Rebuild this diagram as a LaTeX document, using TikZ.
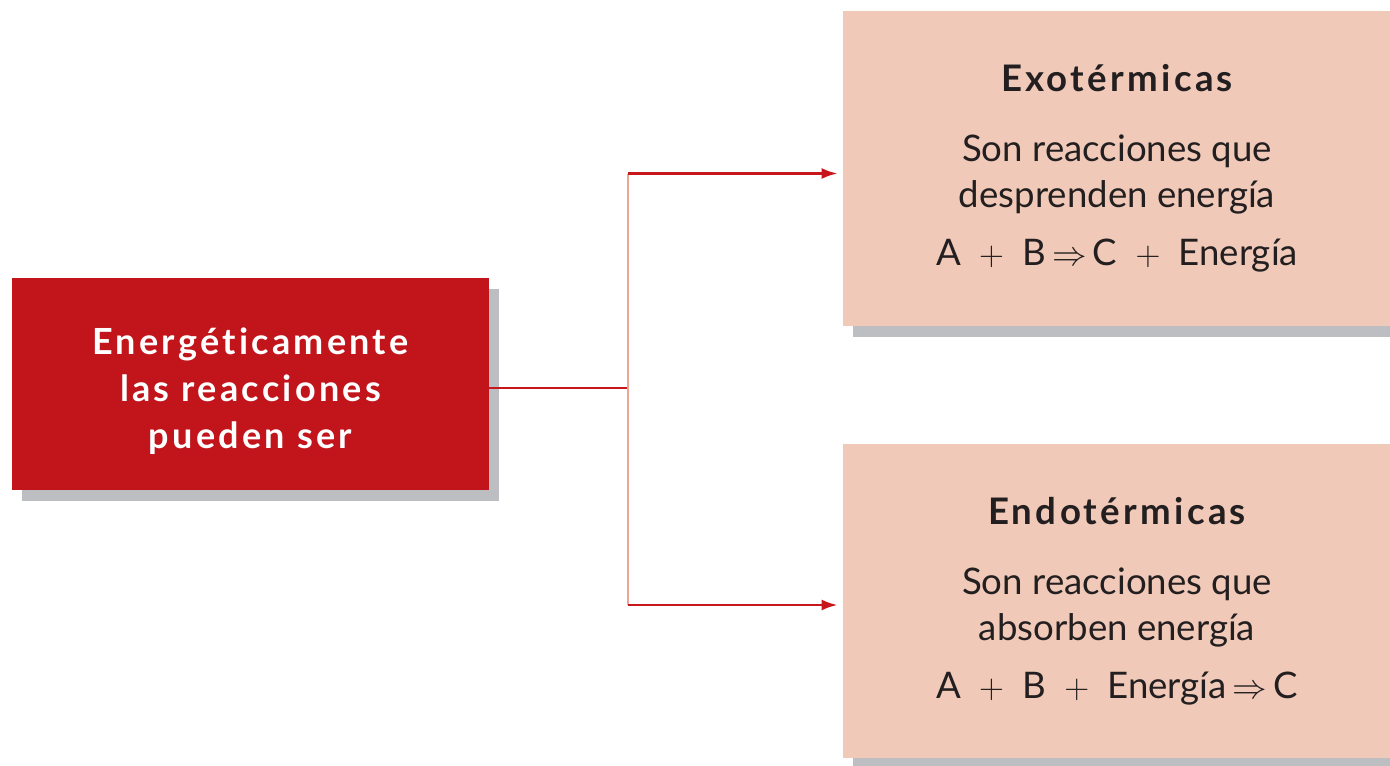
\documentclass[tikz,border=0pt]{standalone}
\usepackage{fontspec}
\setmainfont{Lato}[Ligatures=CommonOff]
\usetikzlibrary{arrows.meta,shadows}
\definecolor{boxred}{RGB}{193,20,27}
\definecolor{peach}{RGB}{240,201,184}
\definecolor{shade}{RGB}{189,190,193}
\definecolor{linkred}{RGB}{200,22,29}
\definecolor{spinepink}{RGB}{238,165,150}
\definecolor{ink}{RGB}{35,31,32}
\newcommand{\wide}{\addfontfeature{LetterSpace=9}}
\tikzset{
    boxshadow/.style={drop shadow={shadow xshift=5pt, shadow yshift=-5.5pt, fill=shade, opacity=1}},
    redbox/.style={fill=boxred, text=white, boxshadow, align=center, inner sep=0pt,
        minimum width=238.5pt, minimum height=106pt,
        font=\bfseries\fontsize{18}{23.5}\selectfont\wide},
    peachbox/.style={fill=peach, text=ink, boxshadow, align=center, inner sep=0pt,
        minimum width=274pt, minimum height=157pt,
        font=\fontsize{18.3}{23}\selectfont},
    branch/.style={draw=linkred, line width=1.3pt, shorten >=2.5pt, -{Latex[length=8pt,width=5.5pt]}},
    spine/.style={draw=spinepink, line width=0.8pt},
    stem/.style={draw=linkred, line width=0.8pt},
}
\begin{document}
\begin{tikzpicture}[x=0.5pt,y=-0.5pt]
    \useasboundingbox (0,0) rectangle (1390,765);

    \node[redbox] (energ) at (250.5,384) {\rule{0pt}{20.5pt}Energéticamente\\las reacciones\\pueden ser};
    \node[peachbox] (exo) at (1117,168.5)
        {{\bfseries\wide Exotérmicas}\\[12pt]Son reacciones que\\desprenden energía\\[6pt]A\enspace$+$\enspace B\,$\Rightarrow$\,C\enspace$+$\enspace Energía};
    \node[peachbox] (endo) at (1117,601)
        {{\bfseries\wide Endotérmicas}\\[12pt]Son reacciones que\\absorben energía\\[6pt]A\enspace$+$\enspace B\enspace$+$\enspace Energía\,$\Rightarrow$\,C};

    % fork of the connectors
    \coordinate (fork) at (628,388);
    \draw[stem] (energ.east |- fork) -- (fork);
    \draw[spine] ([yshift=-2.5pt]fork |- exo.west) -- ([yshift=-2pt]fork |- endo.west);
    \draw[branch] ([yshift=-2.5pt]fork |- exo.west) -- ([yshift=-2.5pt]exo.west);
    \draw[branch] ([yshift=-2pt]fork |- endo.west) -- ([yshift=-2pt]endo.west);
\end{tikzpicture}
\end{document}
